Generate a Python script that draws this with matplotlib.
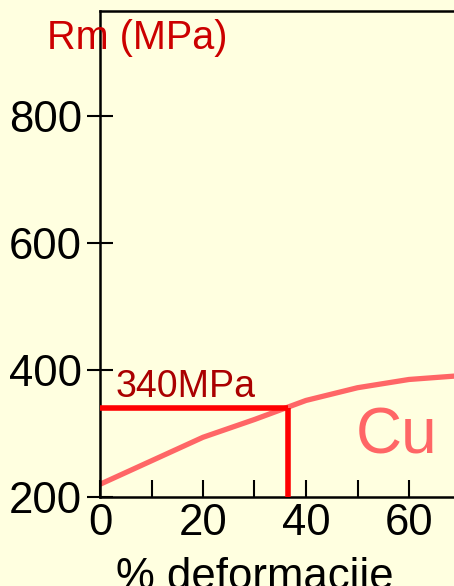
import matplotlib
matplotlib.use("Agg")
import matplotlib.pyplot as plt

plt.rcParams['font.family'] = ['Liberation Sans', 'DejaVu Sans']

# Cu curve
deform = [0, 10, 20, 30, 36, 40, 50, 60, 70]
rm_cu = [220, 257, 294, 322, 340, 352, 372, 385, 391]

# marked point
mark_x = 36.5
mark_y = 340

yticks = [200, 400, 600, 800]
xticks = [0, 20, 40, 60]
xticks_minor = [10, 30, 50, 70]

bg = '#FFFFE0'

fig = plt.figure(figsize=(4.54, 5.86), dpi=100, facecolor=bg)
ax = fig.add_axes([100 / 454, 89 / 586, 412 / 454, 486 / 586], facecolor=bg)

ax.plot(deform, rm_cu, color='#FF6666', lw=3.8, solid_capstyle='butt', zorder=2)
ax.plot([0, mark_x], [mark_y, mark_y], color='#FF0000', lw=4, solid_capstyle='butt', zorder=3)
ax.plot([mark_x, mark_x], [200, mark_y], color='#FF0000', lw=4, solid_capstyle='butt', zorder=3)

ax.text(3.1, 357, '340MPa', color='#AA0000', fontsize=27, ha='left', va='baseline')
ax.text(49.7, 269, 'Cu', color='#FF6666', fontsize=46, ha='left', va='baseline')

ax.set_xlim(0, 80)
ax.set_ylim(200, 965)
ax.set_xticks(xticks)
ax.set_xticks(xticks_minor, minor=True)
ax.set_yticks(yticks)

ax.tick_params(axis='x', which='both', direction='in', length=12.5, width=1.5,
               labelsize=31.5, pad=4)
ax.tick_params(axis='y', direction='inout', length=19, width=1.5,
               labelsize=31.5, pad=3.5)

for s in ax.spines.values():
    s.set_linewidth(1.8)
    s.set_color('black')
ax.spines['right'].set_visible(False)

fig.text(47 / 454, 1 - 49 / 586, 'Rm (MPa)', color='#CC0000', fontsize=28.5,
         ha='left', va='baseline')
fig.text(255 / 454, 1 - 589 / 586, '% deformacije', color='black', fontsize=31.5,
         ha='center', va='baseline')

fig.savefig('out.png', dpi=100, facecolor=bg)
